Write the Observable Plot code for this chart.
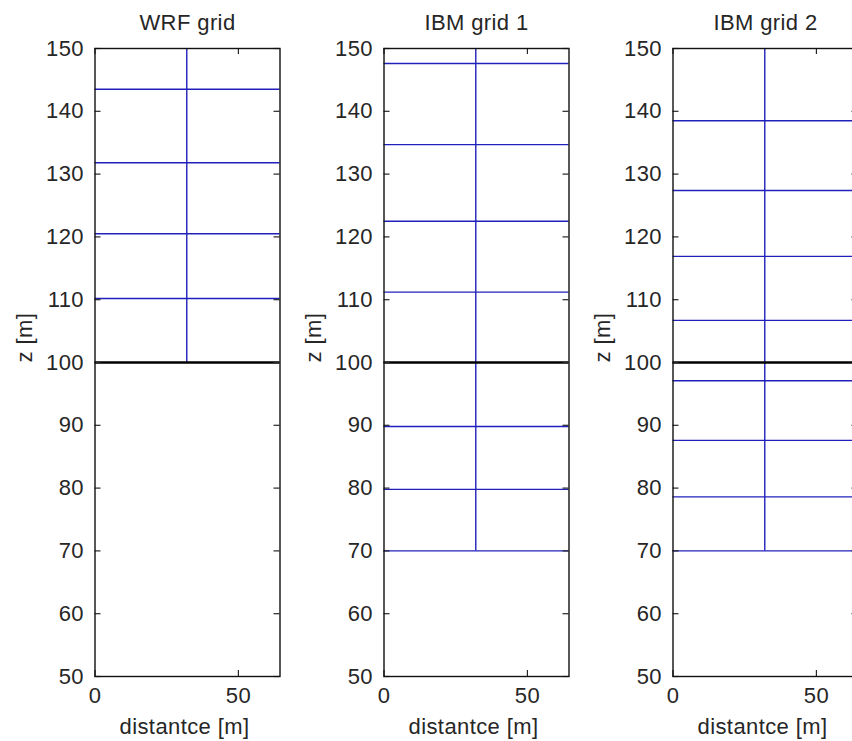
<!DOCTYPE html>
<html>
<head>
<meta charset="utf-8">
<script src="https://cdn.jsdelivr.net/npm/d3@7"></script>
<script src="https://cdn.jsdelivr.net/npm/@observablehq/plot@0.6"></script>
<style>
  html, body { margin: 0; padding: 0; background: #fff; overflow: hidden; }
  #wrap { position: relative; width: 852px; height: 741px; overflow: hidden; background: #fff; }
  #wrap > svg { position: absolute; top: 0; }
</style>
</head>
<body>
<div id="wrap"></div>
<script>
// ---- data ----
const panelTitles = ["WRF grid", "IBM grid 1", "IBM grid 2"];
const wrfLevels  = [110.2, 120.5, 131.8, 143.5];
const ibm1Levels = [70, 79.8, 89.8, 111.2, 122.5, 134.7, 147.6];
const ibm2Levels = [70, 78.6, 87.6, 97.1, 106.7, 116.9, 127.4, 138.5];
const panelLevels = [wrfLevels, ibm1Levels, ibm2Levels];
const interfaceZ = 100;
const columnX = 32;
const columnBottom = [100, 70, 70];
const columnTop = 150;
const yTicks = [50, 60, 70, 80, 90, 100, 110, 120, 130, 140, 150];
const xTicks = [0, 50];
const xDomain = [0, 64.5];
const yDomain = [50, 150];
const xLabel = "distantce [m]";
const yLabel = "z [m]";

// ---- layout ----
const W = 290, H = 741;
const mL = 94.5, mR = 10.5, mT = 48, mB = 65;
const frameW = W - mL - mR, frameH = H - mT - mB;
const offsets = [0, 289, 578];
const tick = 6;
const blue = "#2020bc";
const ink = "#262626";

const wrap = document.getElementById("wrap");

panelTitles.forEach((title, i) => {
  const column = [{x: columnX, y1: columnBottom[i], y2: columnTop}];
  const svg = Plot.plot({
    width: W, height: H,
    marginLeft: mL, marginRight: mR, marginTop: mT, marginBottom: mB,
    style: {fontFamily: "Liberation Sans, Arial, sans-serif", fontSize: "22px", color: ink, background: "#fff", overflow: "visible", letterSpacing: "0.4px"},
    x: {domain: xDomain},
    y: {domain: yDomain},
    marks: [
      Plot.ruleY(panelLevels[i], {stroke: blue, strokeWidth: 1.4}),
      Plot.ruleX(column, {x: "x", y1: "y1", y2: "y2", stroke: blue, strokeWidth: 1.4}),
      Plot.ruleY([interfaceZ], {stroke: "#000", strokeWidth: 2.6}),
      Plot.tickY(yTicks, {y: d => d, insetRight: frameW - tick, stroke: ink, strokeWidth: 1.2}),
      Plot.tickY(yTicks, {y: d => d, insetLeft: frameW - tick, stroke: ink, strokeWidth: 1.2}),
      Plot.tickX(xTicks, {x: d => d, insetTop: frameH - tick, stroke: ink, strokeWidth: 1.2}),
      Plot.tickX(xTicks, {x: d => d, insetBottom: frameH - tick, stroke: ink, strokeWidth: 1.2}),
      Plot.frame({stroke: "#111", strokeWidth: 1.4}),
      Plot.axisY({ticks: yTicks, tickSize: 0, tickPadding: 11, tickFormat: d => String(d), label: null}),
      Plot.axisX({ticks: xTicks, tickSize: 0, tickPadding: 11, tickFormat: d => String(d), label: null}),
      Plot.text([title], {frameAnchor: "top", lineAnchor: "bottom", dy: -19, fill: ink}),
      Plot.text([xLabel], {frameAnchor: "bottom", lineAnchor: "bottom", dy: 57, dx: -3, fill: ink}),
      Plot.text([yLabel], {frameAnchor: "left", rotate: -90, lineAnchor: "middle", dx: -70, fill: ink})
    ]
  });
  svg.style.left = offsets[i] + "px";
  wrap.appendChild(svg);
});
</script>
</body>
</html>
